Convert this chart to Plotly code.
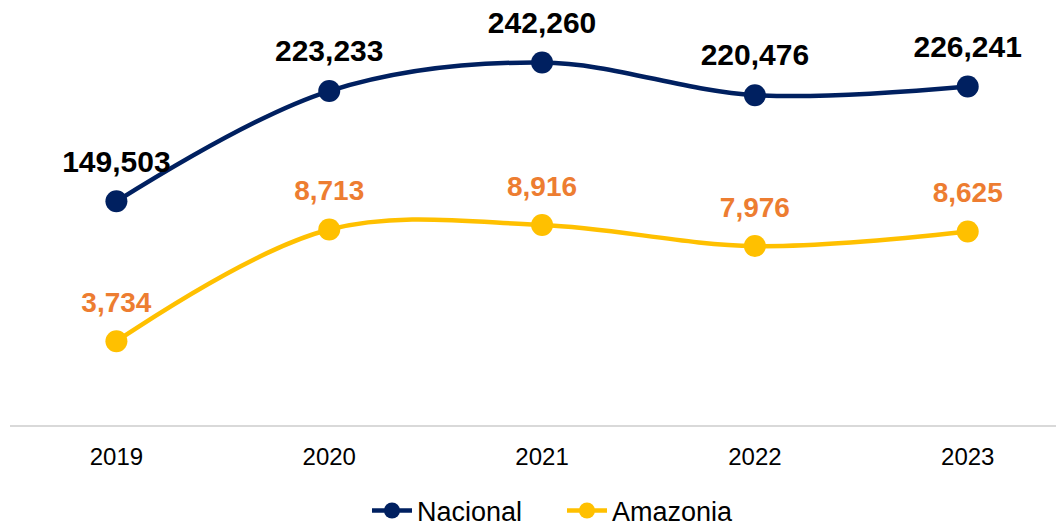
import plotly.graph_objects as go

years = ["2019", "2020", "2021", "2022", "2023"]
nacional = [149503, 223233, 242260, 220476, 226241]
amazonia = [3734, 8713, 8916, 7976, 8625]

NAVY = "#002060"
GOLD = "#FFC000"
ORANGE = "#ED7D31"
FONT = "Liberation Sans, Arial, sans-serif"

fig = go.Figure()
fig.add_trace(go.Scatter(
    x=years, y=nacional, name="Nacional", mode="lines+markers",
    line=dict(color=NAVY, width=4.5, shape="spline", smoothing=1.0),
    marker=dict(color=NAVY, size=22), yaxis="y"))
fig.add_trace(go.Scatter(
    x=years, y=amazonia, name="Amazonia", mode="lines+markers",
    line=dict(color=GOLD, width=4.5, shape="spline", smoothing=1.0),
    marker=dict(color=GOLD, size=22), yaxis="y2"))

# data labels (text traces with an invisible marker to push text upward)
fig.add_trace(go.Scatter(
    x=years, y=nacional, mode="markers+text", yaxis="y",
    text=[f"<b>{v:,}</b>" for v in nacional], textposition="top center",
    textfont=dict(family=FONT, size=30, color="#000000"),
    marker=dict(size=34, opacity=0), showlegend=False, hoverinfo="skip",
    cliponaxis=False))
fig.add_trace(go.Scatter(
    x=years, y=amazonia, mode="markers+text", yaxis="y2",
    text=[f"<b>{v:,}</b>" for v in amazonia], textposition="top center",
    textfont=dict(family=FONT, size=28, color=ORANGE),
    marker=dict(size=34, opacity=0), showlegend=False, hoverinfo="skip",
    cliponaxis=False))

hidden_y = dict(showgrid=False, showline=False, zeroline=False,
                showticklabels=False, ticks="")

fig.update_layout(
    width=1064, height=525,
    margin=dict(l=2, r=0, t=2, b=108),
    paper_bgcolor="white", plot_bgcolor="white",
    font=dict(family=FONT, color="#000000"),
    xaxis=dict(type="category", range=[-0.5, 4.49], showgrid=False,
               showline=True, linecolor="#d9d9d9", linewidth=2,
               ticks="", ticklabelstandoff=9,
               tickfont=dict(size=24, color="#000000"), zeroline=False),
    yaxis=dict(range=[0, 277400], **hidden_y),
    yaxis2=dict(range=[0, 18500], overlaying="y", **hidden_y),
    legend=dict(orientation="h", xref="container", yref="container",
                x=0.3374, xanchor="left", y=0.042, yanchor="middle",
                font=dict(size=27, color="#000000"), itemwidth=40,
                entrywidth=140),
    showlegend=True,
)

fig.write_html("out.html")
